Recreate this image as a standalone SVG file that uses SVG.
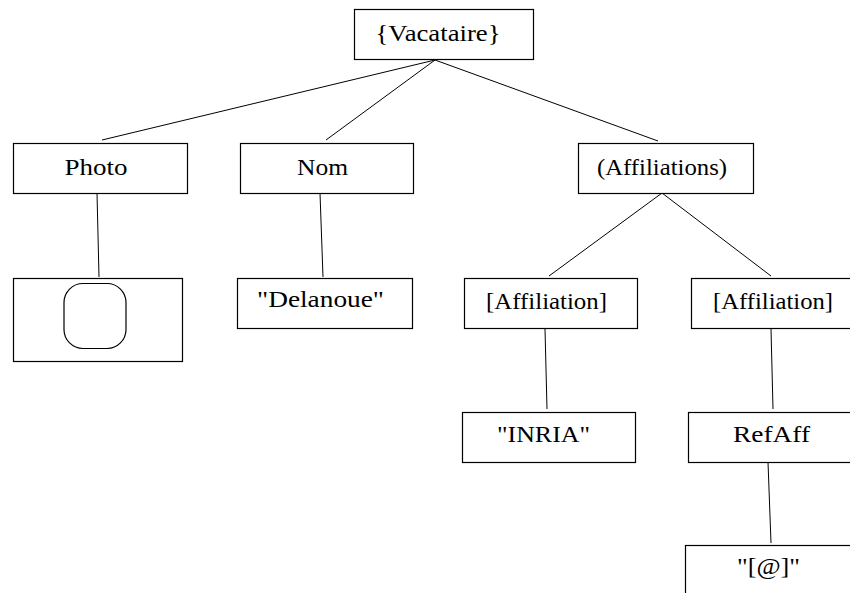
<svg xmlns="http://www.w3.org/2000/svg" width="850" height="593" viewBox="0 0 850 593">
<style>
.box{fill:#fff;stroke:#000;stroke-width:1.2}
.lbl{font-family:'Liberation Serif','DejaVu Serif','Noto Serif',serif;font-size:24px;fill:#000;text-anchor:middle}
.edge{stroke:#000;stroke-width:1;fill:none}
</style>
<rect width="850" height="593" fill="#fff"/>
<g id="connectors">
<line class="edge" x1="435" y1="60" x2="102" y2="140"/>
<line class="edge" x1="435" y1="60" x2="326" y2="140"/>
<line class="edge" x1="435" y1="60" x2="658" y2="141"/>
<line class="edge" x1="97" y1="193" x2="99" y2="277"/>
<line class="edge" x1="320" y1="193" x2="323" y2="277"/>
<line class="edge" x1="662" y1="193" x2="549" y2="276"/>
<line class="edge" x1="662" y1="193" x2="771" y2="276"/>
<line class="edge" x1="545" y1="329" x2="547" y2="409"/>
<line class="edge" x1="771" y1="329" x2="773" y2="409"/>
<line class="edge" x1="768" y1="462" x2="771" y2="543"/>
</g>
<g id="vacataire">
<rect class="box" x="354.5" y="9.5" width="179" height="50"/>
<text class="lbl" x="438" y="41" textLength="125" lengthAdjust="spacingAndGlyphs">{Vacataire}</text>
</g>
<g id="photo">
<rect class="box" x="13.5" y="143.5" width="174" height="50"/>
<text class="lbl" x="96" y="175" textLength="63" lengthAdjust="spacingAndGlyphs">Photo</text>
</g>
<g id="image">
<rect class="box" x="13.5" y="278.5" width="169" height="83"/>
<rect x="64" y="283.5" width="62" height="65" rx="19" ry="19" fill="#fff" stroke="#000" stroke-width="1.2"/>
</g>
<g id="nom">
<rect class="box" x="240.5" y="143.5" width="173" height="50"/>
<text class="lbl" x="322.5" y="175" textLength="51" lengthAdjust="spacingAndGlyphs">Nom</text>
</g>
<g id="delanoue">
<rect class="box" x="237.5" y="278.5" width="175" height="50"/>
<text class="lbl" x="320.5" y="307" textLength="127" lengthAdjust="spacingAndGlyphs">"Delanoue"</text>
</g>
<g id="affiliations">
<rect class="box" x="578.5" y="143.5" width="175" height="50"/>
<text class="lbl" x="662" y="175" textLength="130" lengthAdjust="spacingAndGlyphs">(Affiliations)</text>
</g>
<g id="affiliation1">
<rect class="box" x="464.5" y="278.5" width="173" height="50"/>
<text class="lbl" x="546.5" y="309" textLength="121" lengthAdjust="spacingAndGlyphs">[Affiliation]</text>
</g>
<g id="affiliation2">
<rect class="box" x="691.5" y="278.5" width="180" height="50"/>
<text class="lbl" x="773" y="309" textLength="120" lengthAdjust="spacingAndGlyphs">[Affiliation]</text>
</g>
<g id="inria">
<rect class="box" x="462.5" y="412.5" width="173" height="50"/>
<text class="lbl" x="543.5" y="442" textLength="93" lengthAdjust="spacingAndGlyphs">"INRIA"</text>
</g>
<g id="refaff">
<rect class="box" x="688.5" y="412.5" width="180" height="50"/>
<text class="lbl" x="771.5" y="442" textLength="77" lengthAdjust="spacingAndGlyphs">RefAff</text>
</g>
<g id="at">
<rect class="box" x="685.5" y="545.5" width="180" height="60"/>
<text class="lbl" x="768.5" y="574" textLength="63" lengthAdjust="spacingAndGlyphs">"[@]"</text>
</g>
</svg>
